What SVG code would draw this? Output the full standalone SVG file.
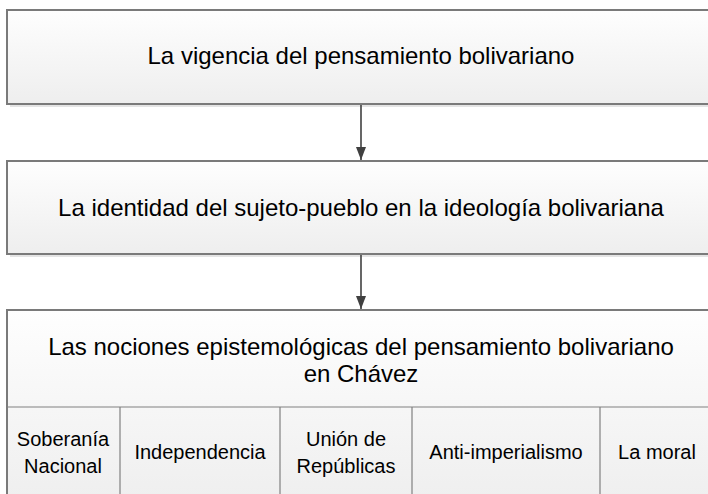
<svg xmlns="http://www.w3.org/2000/svg" width="708" height="494" viewBox="0 0 708 494">
<defs>
<linearGradient id="fillGrad" x1="0" y1="0" x2="0" y2="1">
<stop offset="0" stop-color="#fefefe"/>
<stop offset="1" stop-color="#eeeeee"/>
</linearGradient>
<marker id="arrow" markerWidth="13" markerHeight="10" refX="13" refY="5" orient="auto" markerUnits="userSpaceOnUse" viewBox="0 0 13 10">
<path d="M0,0 L13,5 L0,10 Z" fill="#404040"/>
</marker>
<style>
.box{fill:url(#fillGrad);stroke:#7a7a7a;stroke-width:2}
.shadow{fill:#e4e4e4}
.div{stroke:#808080;stroke-width:1.2;fill:none}
.big{font-family:"Liberation Sans",Arial,sans-serif;font-size:24px;fill:#000;text-anchor:middle}
.cell{font-family:"Liberation Sans",Arial,sans-serif;font-size:20px;fill:#000;text-anchor:middle}
.conn{stroke:#404040;stroke-width:1.6;fill:none}
</style>
</defs>
<rect width="708" height="494" fill="#ffffff"/>

<g id="node-vigencia">
<rect class="shadow" x="10" y="13" width="710" height="94"/>
<rect class="box" x="7" y="10" width="708" height="94"/>
<text class="big" x="361" y="64">La vigencia del pensamiento bolivariano</text>
</g>

<g id="node-identidad">
<rect class="shadow" x="10" y="164" width="710" height="93"/>
<rect class="box" x="7" y="161" width="708" height="93"/>
<text class="big" x="361" y="216">La identidad del sujeto-pueblo en la ideología bolivariana</text>
</g>

<g id="node-nociones">
<rect class="shadow" x="10" y="313" width="710" height="200"/>
<rect class="box" x="7" y="310" width="708" height="200"/>
<text class="big" x="361" y="355">Las nociones epistemológicas del pensamiento bolivariano</text>
<text class="big" x="361" y="382">en Chávez</text>
<line class="div" x1="7" y1="407" x2="715" y2="407"/>
<line class="div" x1="120" y1="407" x2="120" y2="510"/>
<line class="div" x1="280" y1="407" x2="280" y2="510"/>
<line class="div" x1="412" y1="407" x2="412" y2="510"/>
<line class="div" x1="600" y1="407" x2="600" y2="510"/>
</g>

<g id="cell-soberania">
<text class="cell" x="63" y="446">Soberanía</text>
<text class="cell" x="63" y="473">Nacional</text>
</g>
<g id="cell-independencia">
<text class="cell" x="200" y="459">Independencia</text>
</g>
<g id="cell-union">
<text class="cell" x="346" y="446">Unión de</text>
<text class="cell" x="346" y="473">Repúblicas</text>
</g>
<g id="cell-antiimperialismo">
<text class="cell" x="506" y="459">Anti-imperialismo</text>
</g>
<g id="cell-moral">
<text class="cell" x="657" y="459">La moral</text>
</g>

<g id="connectors">
<line class="conn" x1="361" y1="105" x2="361" y2="160" marker-end="url(#arrow)"/>
<line class="conn" x1="361" y1="255" x2="361" y2="309" marker-end="url(#arrow)"/>
</g>
</svg>
